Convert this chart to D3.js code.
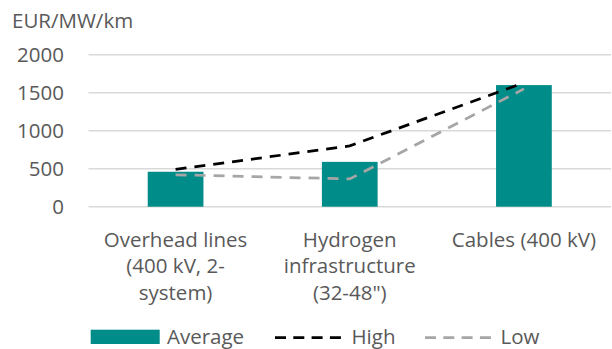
<!DOCTYPE html>
<html>
<head>
<meta charset="utf-8">
<script src="https://cdn.jsdelivr.net/npm/d3@7"></script>
<style>
  html, body { margin: 0; padding: 0; background: #fff; }
  svg text { font-family: "Open Sans", sans-serif; fill: #595959; }
</style>
</head>
<body>
<svg id="chart" width="612" height="349"></svg>
<script>
// Cost per MW per km by infrastructure type
const categories = ["Overhead lines", "Hydrogen", "Cables"];
const categoryLabels = [
  ["Overhead lines", "(400 kV, 2-", "system)"],
  ["Hydrogen", "infrastructure", "(32-48\")"],
  ["Cables (400 kV)"]
];
const average = [460, 590, 1600];
const high = [490, 800, 1630];
const low = [420, 365, 1550];
const yTicks = [0, 500, 1000, 1500, 2000];
const unitLabel = "EUR/MW/km";
const seriesNames = ["Average", "High", "Low"];

const teal = "#008C88";
const fontSize = 20.5;

const svg = d3.select("#chart");

const x = d3.scaleBand().domain(categories).range([88.5, 611]).padding(0);
const y = d3.scaleLinear().domain([0, 2000]).range([206.7, 54.7]);

// horizontal gridlines
svg.append("g")
  .selectAll("line")
  .data(yTicks)
  .join("line")
  .attr("x1", x.range()[0])
  .attr("x2", x.range()[1])
  .attr("y1", d => y(d))
  .attr("y2", d => y(d))
  .attr("stroke", "#D9D9D9")
  .attr("stroke-width", 1.5);

// y axis labels
const yAxis = d3.axisLeft(y).tickValues(yTicks).tickSize(0).tickPadding(0).tickFormat(d3.format("d"));
const yAxisG = svg.append("g")
  .attr("transform", "translate(64,0)")
  .call(yAxis);
yAxisG.select(".domain").remove();
yAxisG.selectAll("text")
  .attr("font-size", fontSize)
  .attr("font-family", "Open Sans, sans-serif")
  .attr("fill", "#595959")
  .attr("dy", "0.35em");

// unit title
svg.append("text")
  .attr("x", 12)
  .attr("y", 28)
  .attr("font-size", fontSize)
  .text(unitLabel);

// bars
const barW = x.bandwidth() * 0.32;
svg.append("g")
  .selectAll("rect")
  .data(average)
  .join("rect")
  .attr("x", (d, i) => x(categories[i]) + x.bandwidth() / 2 - barW / 2)
  .attr("y", d => y(d))
  .attr("width", barW)
  .attr("height", d => y(0) - y(d))
  .attr("fill", teal);

// dashed range lines
const line = d3.line()
  .x((d, i) => x(categories[i]) + x.bandwidth() / 2)
  .y(d => y(d));

svg.append("path")
  .datum(low)
  .attr("d", line)
  .attr("fill", "none")
  .attr("stroke", "#A6A6A6")
  .attr("stroke-width", 2.75)
  .attr("stroke-dasharray", "11,8");

svg.append("path")
  .datum(high)
  .attr("d", line)
  .attr("fill", "none")
  .attr("stroke", "#000000")
  .attr("stroke-width", 2.75)
  .attr("stroke-dasharray", "11,8");

// category labels
const catG = svg.append("g");
categoryLabels.forEach((lines, i) => {
  const t = catG.append("text")
    .attr("text-anchor", "middle")
    .attr("font-size", fontSize);
  lines.forEach((s, j) => {
    t.append("tspan")
      .attr("x", x(categories[i]) + x.bandwidth() / 2)
      .attr("y", 246.5 + j * 26.7)
      .text(s);
  });
});

// legend
const legendBaseline = 343.5;
const legend = svg.append("g");
legend.append("rect")
  .attr("x", 90.7).attr("y", 329.7)
  .attr("width", 69).attr("height", 14.3)
  .attr("fill", teal);
legend.append("text")
  .attr("x", 167).attr("y", legendBaseline)
  .attr("font-size", fontSize)
  .text(seriesNames[0]);

legend.append("line")
  .attr("x1", 275).attr("x2", 341)
  .attr("y1", 337.5).attr("y2", 337.5)
  .attr("stroke", "#000000").attr("stroke-width", 2.75)
  .attr("stroke-dasharray", "11,7.3");
legend.append("text")
  .attr("x", 351.5).attr("y", legendBaseline)
  .attr("font-size", fontSize)
  .text(seriesNames[1]);

legend.append("line")
  .attr("x1", 425).attr("x2", 491)
  .attr("y1", 337.5).attr("y2", 337.5)
  .attr("stroke", "#A6A6A6").attr("stroke-width", 2.75)
  .attr("stroke-dasharray", "11,7.3");
legend.append("text")
  .attr("x", 500.5).attr("y", legendBaseline)
  .attr("font-size", fontSize)
  .text(seriesNames[2]);
</script>
</body>
</html>
